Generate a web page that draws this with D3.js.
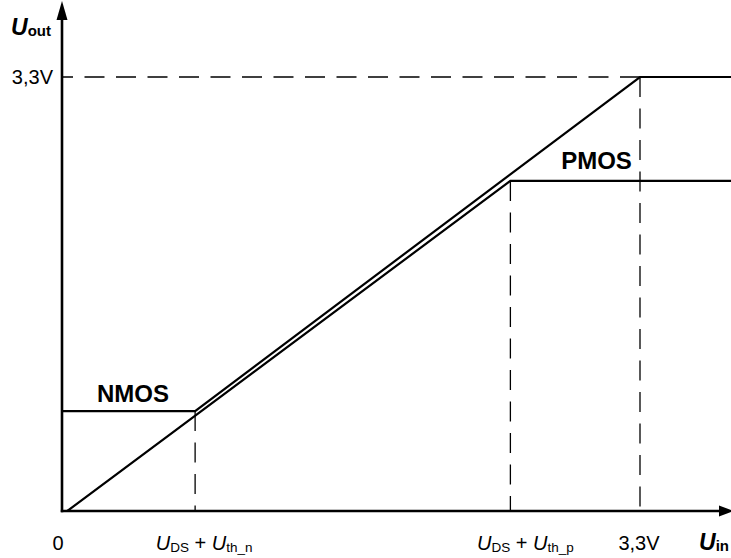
<!DOCTYPE html>
<html>
<head>
<meta charset="utf-8">
<script src="https://cdn.jsdelivr.net/npm/d3@7/dist/d3.min.js"></script>
<style>
  html, body { margin: 0; padding: 0; background: #fff; }
  svg { display: block; }
  text { font-family: "Liberation Sans", Arial, sans-serif; fill: #000; }
</style>
</head>
<body>
<svg id="chart" width="731" height="558"></svg>
<script>
// Input voltage (V) and output voltage (V) for the two transfer curves
const nmosUin  = [0, 0.76, 3.3, 3.82];
const nmosUout = [0.76, 0.76, 3.3, 3.3];
const pmosUin  = [0.03, 2.56, 3.82];
const pmosUout = [0, 2.51, 2.51];

// Supply level and the two threshold breakpoints on the Uin axis
const supply = 3.3;
const thresholdN = { uin: 0.76, uout: 0.76 };
const thresholdP = { uin: 2.56, uout: 2.51 };

// Tick labels on the Uin axis: [value, parts, nudge]; each part is [text, style]
const xTickLabels = [
  [0, [["0", "n"]], -4],
  [0.76, [["U", "i"], ["DS", "s"], [" + ", "n"], ["U", "i"], ["th_n", "s"]], 9],
  [2.56, [["U", "i"], ["DS", "s"], [" + ", "n"], ["U", "i"], ["th_p", "s"]], 15],
  [3.3, [["3,3V", "n"]], -1]
];
const yTickLabels = [[3.3, "3,3V"]];
const curveLabels = [["NMOS", 0.2, 0.83], ["PMOS", 2.85, 2.6]];

const svg = d3.select("#chart");
const x = d3.scaleLinear().domain([0, 3.3]).range([62, 640]);
const y = d3.scaleLinear().domain([0, 3.3]).range([511, 77]);

// dashed guides
const guides = [
  [[0, supply], [supply, supply]],
  [[thresholdN.uin, thresholdN.uout], [thresholdN.uin, 0]],
  [[thresholdP.uin, thresholdP.uout], [thresholdP.uin, 0]],
  [[supply, supply], [supply, 0]]
];
const line = d3.line().x(d => x(d[0])).y(d => y(d[1]));
svg.selectAll("path.guide").data(guides).join("path")
  .attr("class", "guide")
  .attr("d", line)
  .attr("fill", "none")
  .attr("stroke", "#000")
  .attr("stroke-width", 1.3)
  .attr("stroke-dasharray", "20,11.5")
  .attr("stroke-dashoffset", (d, i) => i === 0 ? 9 : 0);

// transfer curves
const curves = [
  d3.zip(nmosUin, nmosUout),
  d3.zip(pmosUin, pmosUout)
];
svg.selectAll("path.curve").data(curves).join("path")
  .attr("class", "curve")
  .attr("d", line)
  .attr("fill", "none")
  .attr("stroke", "#000")
  .attr("stroke-width", 2.2)
  .attr("stroke-linejoin", "miter");

// axes with arrowheads
const x0 = x(0), y0 = y(0);
svg.append("path")
  .attr("d", `M${x0},${y0 + 1.2} V18`)
  .attr("stroke", "#000").attr("stroke-width", 2.6).attr("fill", "none");
svg.append("path")
  .attr("d", `M${x0 - 1.2},${y0} H722`)
  .attr("stroke", "#000").attr("stroke-width", 2.6).attr("fill", "none");
svg.append("path")
  .attr("d", `M${x0},1 L${x0 + 5.5},20 L${x0 - 5.5},20 Z`)
  .attr("fill", "#000");
svg.append("path")
  .attr("d", `M734,${y0} L719,${y0 - 5.5} L719,${y0 + 5.5} Z`)
  .attr("fill", "#000");

// axis titles
const yTitle = svg.append("text").attr("x", 11).attr("y", 35);
yTitle.append("tspan").text("U").attr("font-size", 23).attr("font-weight", "bold").attr("font-style", "italic");
yTitle.append("tspan").text("out").attr("font-size", 15).attr("font-weight", "bold").attr("dy", 1);

const xTitle = svg.append("text").attr("x", 699).attr("y", 550);
xTitle.append("tspan").text("U").attr("font-size", 23).attr("font-weight", "bold").attr("font-style", "italic");
xTitle.append("tspan").text("in").attr("font-size", 15).attr("font-weight", "bold").attr("dy", 1);

// y tick labels
svg.selectAll("text.ytick").data(yTickLabels).join("text")
  .attr("class", "ytick")
  .attr("x", x0 - 9)
  .attr("y", d => y(d[0]) + 7)
  .attr("text-anchor", "end")
  .attr("font-size", 20)
  .text(d => d[1]);

// x tick labels, centred under their positions
const xt = svg.selectAll("text.xtick").data(xTickLabels).join("text")
  .attr("class", "xtick")
  .attr("y", 550)
  .attr("text-anchor", "middle")
  .attr("x", d => x(d[0]) + d[2]);
xt.each(function(d) {
  const t = d3.select(this);
  let sub = false;
  d[1].forEach(([s, st]) => {
    const ts = t.append("tspan").text(s);
    if (st === "i") { ts.attr("font-style", "italic").attr("font-size", 20); }
    if (st === "n") { ts.attr("font-size", 20); }
    if (st === "s") { ts.attr("font-size", 13.5); }
    if (st === "s" && !sub) { ts.attr("dy", 2); sub = true; }
    else if (st !== "s" && sub) { ts.attr("dy", -2); sub = false; }
  });
});

// curve labels
svg.selectAll("text.clabel").data(curveLabels).join("text")
  .attr("class", "clabel")
  .attr("x", d => x(d[1]))
  .attr("y", d => y(d[2]))
  .attr("font-size", 24)
  .attr("font-weight", "bold")
  .text(d => d[0]);
</script>
</body>
</html>
